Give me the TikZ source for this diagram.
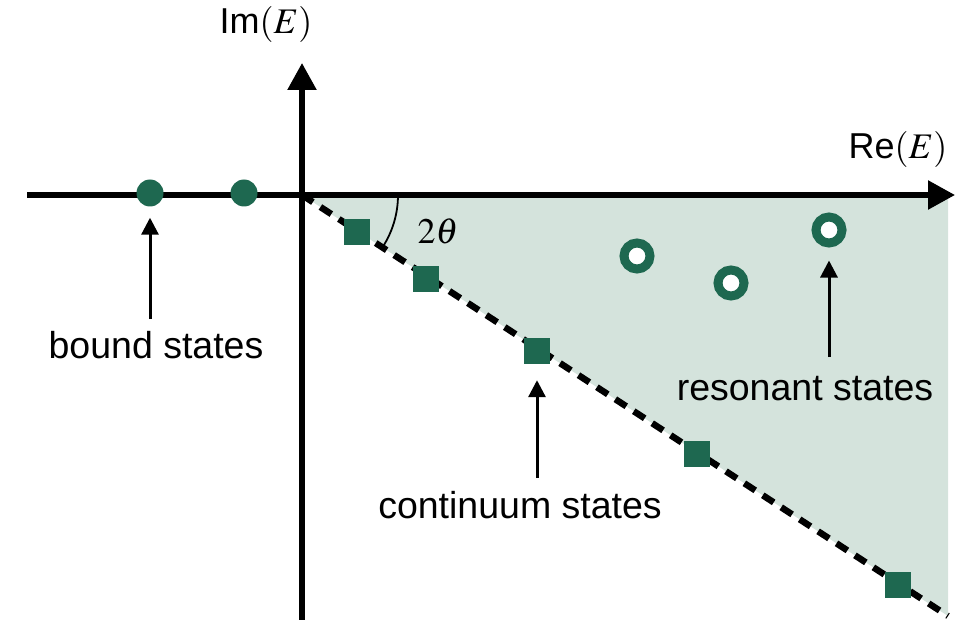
\documentclass[tikz,border=0pt]{standalone}
\usepackage{mathptmx}
\usepackage{fontspec}
\setmainfont{Liberation Sans}
\usetikzlibrary{arrows.meta}

\definecolor{stategreen}{RGB}{30,104,80}
\definecolor{regionfill}{RGB}{212,227,220}

\tikzset{
  axis/.style={line width=5.5pt, -{Triangle[width=28pt,length=27pt]}},
  pointer/.style={line width=3pt, -{Triangle[width=17pt,length=17pt]}},
  lbl/.style={font=\fontsize{36}{40}\selectfont, inner sep=0pt},
  statelbl/.style={font=\fontsize{37.5}{40}\selectfont, inner sep=0pt, anchor=north},
  bound/.style={circle, fill=stategreen, minimum size=27pt, inner sep=0pt},
  cont/.style={rectangle, fill=stategreen, minimum size=26pt, inner sep=0pt},
  reson/.style={circle, draw=stategreen, line width=9pt, fill=white, minimum size=26pt, inner sep=0pt}
}

\begin{document}
\begin{tikzpicture}[x=1pt, y=-1pt]
  \useasboundingbox (0,0) rectangle (963,620);

  % Rotated continuum region
  \coordinate (O) at (302,195);
  \coordinate (R) at (948,195);
  \coordinate (C) at (948,616);
  \fill[regionfill] (O) -- (R) -- (C) -- cycle;
  \draw[line width=6.5pt, dash pattern=on 13pt off 9pt] (O) -- (C);

  % Axes
  \coordinate (xl) at (27,195);
  \coordinate (xr) at (955,195);
  \coordinate (yb) at (302,620);
  \coordinate (yt) at (302,63);
  \draw[axis] (xl) -- (xr);
  \draw[axis] (yb) -- (yt);
  \node[lbl] (re) at (898,150) {Re$(E)$};
  \node[lbl] (im) at (266,25) {Im$(E)$};

  % Angle 2theta
  \draw[line width=1.8pt] (O) ++(0:96) arc[start angle=0, end angle=33, radius=96];
  \node[lbl] (ang) at (438,231) {$2\theta$};

  % Bound states
  \node[bound] (b1) at (150,193) {};
  \node[bound] (b2) at (244,193) {};

  % Continuum states
  \node[cont] (c1) at (357,232) {};
  \node[cont] (c2) at (426,279) {};
  \node[cont] (c3) at (537,351) {};
  \node[cont] (c4) at (697,454) {};
  \node[cont] (c5) at (898,585) {};

  % Resonant states
  \node[reson] (r1) at (637,256) {};
  \node[reson] (r2) at (731,283) {};
  \node[reson] (r3) at (829,230) {};

  % Labels
  \node[statelbl] (lb) at (156,331) {bound states};
  \node[statelbl] (lc) at (520,491) {continuum states};
  \node[statelbl] (lr) at (805,376) {resonant states};

  \draw[pointer, shorten <=12pt, shorten >=11pt] (lb.north -| b1) -- (b1.south);
  \draw[pointer, shorten <=13pt, shorten >=16pt] (lc.north -| c3) -- (c3.south);
  \draw[pointer, shorten <=19pt, shorten >=13pt] (lr.north -| r3) -- (r3.south);
\end{tikzpicture}
\end{document}
